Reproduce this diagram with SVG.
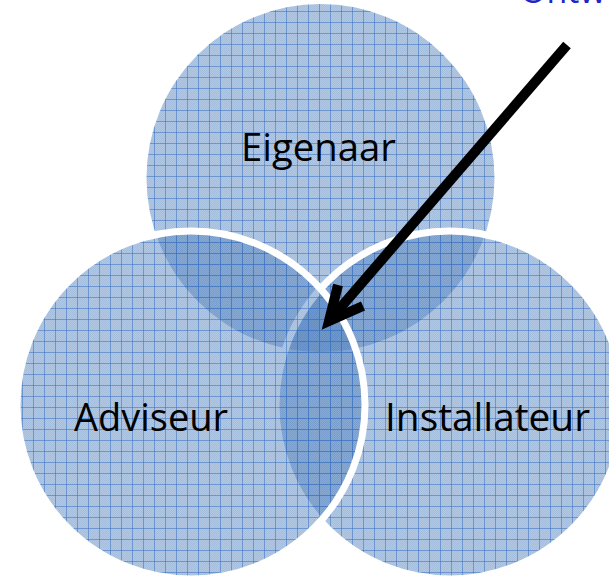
<svg xmlns="http://www.w3.org/2000/svg" width="609" height="579" viewBox="0 0 609 579">
<style>
.lbl{font-family:"Open Sans","Noto Sans","Liberation Sans",sans-serif;font-size:38px;fill:#000}
.top{font-family:"Open Sans","Noto Sans","Liberation Sans",sans-serif;font-size:34px;fill:#2424c4}
.edge{fill:none;stroke:#fff;stroke-width:7}
.arrow{fill:none;stroke:#000;stroke-width:10}
</style>
<defs>
<pattern id="chk" patternUnits="userSpaceOnUse" width="2" height="2">
<rect width="1" height="1" fill="#3f74c0" fill-opacity="0.12"/>
<rect x="1" y="1" width="1" height="1" fill="#3f74c0" fill-opacity="0.12"/>
</pattern>
<pattern id="grid" patternUnits="userSpaceOnUse" width="11" height="11">
<rect width="11" height="11" fill="#4f81bd" fill-opacity="0.44"/>
<rect width="11" height="11" fill="url(#chk)"/>
<path d="M0 0.5H11M0.5 0V11" stroke="#3a70c2" stroke-opacity="0.55" stroke-width="1"/>
</pattern>
</defs>
<g id="eigenaar">
<circle cx="320.5" cy="178" r="174" fill="url(#grid)"/>
<text class="lbl" x="241" y="161" textLength="155" lengthAdjust="spacingAndGlyphs">Eigenaar</text>
</g>
<g id="installateur">
<circle cx="450" cy="405" r="174" fill="url(#grid)"/>
<circle class="edge" cx="450" cy="405" r="174"/>
</g>
<g id="adviseur">
<circle cx="191" cy="405" r="174" fill="url(#grid)"/>
<circle class="edge" cx="191" cy="405" r="174"/>
<text class="lbl" x="74" y="431" textLength="154" lengthAdjust="spacingAndGlyphs">Adviseur</text>
</g>
<g id="installateur-label">
<text class="lbl" x="385" y="431" textLength="205" lengthAdjust="spacingAndGlyphs">Installateur</text>
</g>
<g id="ontwerper">
<text class="top" x="520" y="3">Ontwerper</text>
</g>
<g id="connectors">
<path class="arrow" d="M567 45L329 321"/>
<path class="arrow" d="M338 285L329 321L363 306" stroke-linejoin="miter"/>
</g>
</svg>
